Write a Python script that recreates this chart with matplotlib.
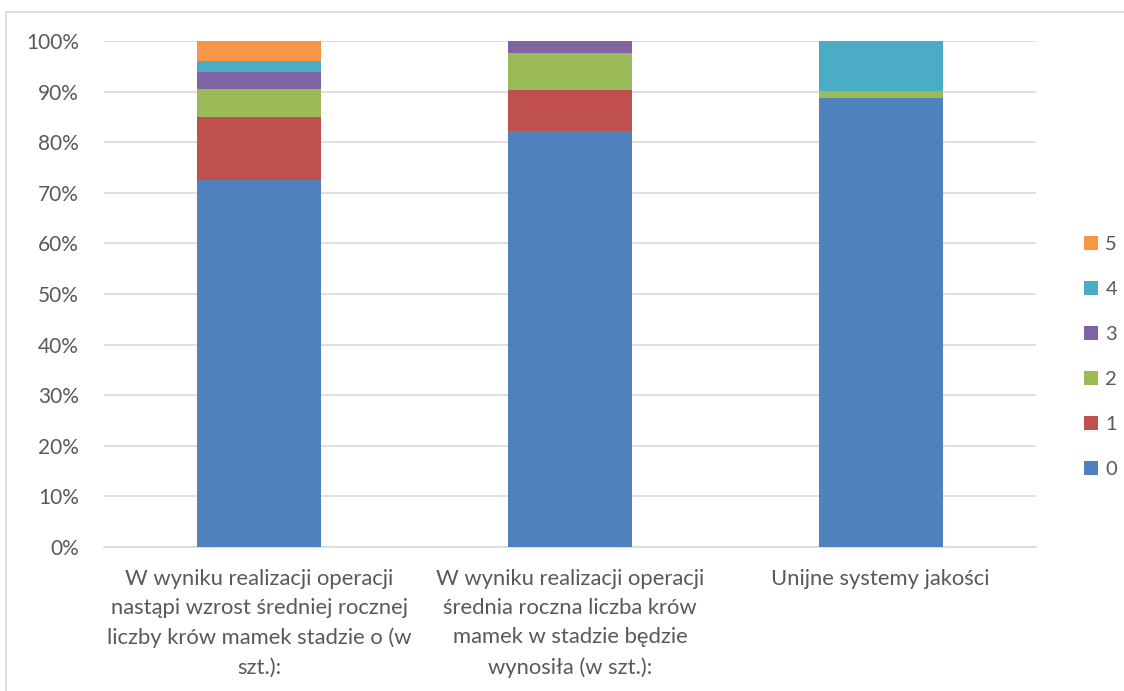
import matplotlib
matplotlib.use("Agg")
import matplotlib.pyplot as plt
from matplotlib.patches import Rectangle
from matplotlib.ticker import PercentFormatter

categories = [
    "W wyniku realizacji operacji\nnastąpi wzrost średniej rocznej\nliczby krów mamek stadzie o (w\nszt.):",
    "W wyniku realizacji operacji\nśrednia roczna liczba krów\nmamek w stadzie będzie\nwynosiła (w szt.):",
    "Unijne systemy jakości",
]
series_names = ["0", "1", "2", "3", "4", "5"]
s0 = [72.5, 82.2, 88.8]
s1 = [12.5, 8.1, 0.0]
s2 = [5.5, 7.4, 1.3]
s3 = [3.3, 2.3, 0.0]
s4 = [2.2, 0.0, 9.9]
s5 = [4.0, 0.0, 0.0]
series = [s0, s1, s2, s3, s4, s5]
colors = ["#4f81bd", "#c0504d", "#9bbb59", "#8064a2", "#4bacc6", "#f79646"]

plt.rcParams['font.family'] = ['Lato', 'DejaVu Sans']
fig = plt.figure(figsize=(11.24, 6.91), dpi=100)
ax = fig.add_axes([104/1124, 1-547/691, 932/1124, 506/691])

x = list(range(len(categories)))
bottom = [0.0]*len(categories)
handles = []
for name, vals, c in zip(series_names, series, colors):
    b = ax.bar(x, vals, bottom=bottom, width=0.4, color=c, label=name, zorder=3)
    handles.append(b)
    bottom = [bt + v for bt, v in zip(bottom, vals)]

ax.set_xlim(-0.5, len(categories)-0.5)
ax.set_ylim(0, 100)
ax.set_yticks(range(0, 101, 10))
ax.yaxis.set_major_formatter(PercentFormatter(decimals=0))
ax.grid(axis='y', color='#d9d9d9', linewidth=1.2, zorder=0)
for s in ['top', 'right', 'left']:
    ax.spines[s].set_visible(False)
ax.spines['bottom'].set_color('#d9d9d9')
ax.spines['bottom'].set_linewidth(1.2)
ax.tick_params(axis='y', length=0, labelsize=15, colors='#595959', pad=18)
ax.tick_params(axis='x', length=0, labelsize=15.8, colors='#595959', pad=16)
ax.set_xticks(x)
ax.set_xticklabels(categories, linespacing=1.57, va='top')

leg = fig.legend(handles[::-1], series_names[::-1], loc='center left',
                 bbox_to_anchor=(1066/1124, 1-357/691), frameon=False,
                 fontsize=14.5, labelspacing=1.38, handlelength=0.7, handleheight=0.7,
                 handletextpad=0.35, labelcolor='#595959')

border = Rectangle((6/1124, -0.05), 1.2, 1-12/691+0.05, transform=fig.transFigure,
                   fill=False, edgecolor='#d9d9d9', linewidth=1.2)
fig.patches.append(border)

fig.savefig("out.png", dpi=100)
